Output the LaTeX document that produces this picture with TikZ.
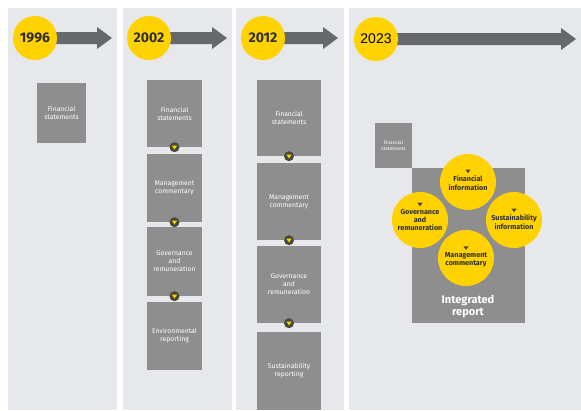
\documentclass[tikz,border=0pt]{standalone}
\usepackage{fontspec}
\setmainfont{Fira Sans}
\newfontfamily\arialf{Liberation Sans}
\definecolor{panelc}{HTML}{E6E8EB}
\definecolor{boxc}{HTML}{8E8E8E}
\definecolor{arrowc}{HTML}{66686B}
\definecolor{eyyellow}{HTML}{FFD200}
\definecolor{dotc}{HTML}{4A4838}
\definecolor{darktext}{HTML}{2E2E2E}
\tikzset{
  panel/.style={fill=panelc},
  gbox/.style={fill=boxc, draw=none, text=white, align=center, inner sep=0pt,
    font=\fontsize{6.8}{8}\selectfont},
  yearc/.style={circle, fill=eyyellow, minimum size=44pt, inner sep=0pt, text=darktext,
    font=\fontsize{14}{15}\selectfont\bfseries},
  timearrow/.style={fill=arrowc},
  linkdot/.style={circle, fill=dotc, minimum size=10pt, inner sep=0pt},
  topicc/.style={circle, fill=eyyellow, minimum size=56pt, inner sep=0pt},
  topict/.style={align=center, inner sep=0pt, text=darktext,
    font=\fontsize{7.2}{8.5}\selectfont\bfseries},
}
\newcommand{\tarrow}[4]{% start x, head start x, tip x, y
  \fill[timearrow] (#1,#4-6) -- (#2,#4-6) -- (#2,#4-11) -- (#3,#4) -- (#2,#4+11) -- (#2,#4+6) -- (#1,#4+6) -- cycle;}
\begin{document}
\begin{tikzpicture}[x=1pt,y=-1pt]
\useasboundingbox (0,0) rectangle (581,410);
\fill[white] (0,0) rectangle (581,410);
% panels
\fill[panel] (8,8) rectangle (117,410);
\fill[panel] (123,8) rectangle (232,410);
\fill[panel] (236,8) rectangle (344,410);
\fill[panel] (349,8) rectangle (581,410);
% timeline arrows
\tarrow{35}{97}{112}{38}
\tarrow{149}{212}{227}{38}
\tarrow{263}{323}{338}{38}
\tarrow{376}{561}{576}{39}
% year circles
\node[yearc] (y1996) at (35,38) {1996};
\node[yearc] (y2002) at (149,38) {2002};
\node[yearc] (y2012) at (263,38) {2012};
\node[yearc, font=\arialf\fontsize{14}{15}\selectfont, text=black] (y2023) at (376,39) {2023};
% panel 1
\node[gbox, minimum width=49pt, minimum height=60pt] (a1) at (61.5,113) {Financial\\statements};
% panel 2
\node[gbox, minimum width=55pt, minimum height=67pt] (b1) at (174.5,113.5) {Financial\\statements};
\node[gbox, minimum width=55pt, minimum height=68pt] (b2) at (174.5,188) {Management\\commentary};
\node[gbox, minimum width=55pt, minimum height=69pt] (b3) at (174.5,261.5) {Governance\\and\\remuneration};
\node[gbox, minimum width=55pt, minimum height=68pt] (b4) at (174.5,336) {Environmental\\reporting};
% panel 3
\node[gbox, minimum width=64pt, minimum height=76pt] (c1) at (289,118) {Financial\\statements};
\node[gbox, minimum width=64pt, minimum height=77pt] (c2) at (289,201.5) {Management\\commentary};
\node[gbox, minimum width=64pt, minimum height=77pt] (c3) at (289,284.5) {Governance\\and\\remuneration};
\node[gbox, minimum width=64pt, minimum height=78pt] (c4) at (289,371) {Sustainability\\reporting};
% link dots
\foreach \n/\b in {db1/b1, db2/b2, db3/b3, dc1/c1, dc2/c2, dc3/c3}{
  \node[linkdot] (\n) at (\b.south) {};
  \fill[eyyellow] (\n.center) ++(-2.6,-1.6) -- ++(5.2,0) -- ++(-2.6,3.8) -- cycle;
}
% panel 4
\node[gbox, minimum width=37pt, minimum height=45pt, font=\fontsize{4.8}{5.6}\selectfont] (d0) at (393.5,145.5) {Financial\\statements};
\node[fill=boxc, minimum width=113pt, minimum height=155pt, inner sep=0pt] (ir) at (468.5,245.5) {};
\node[text=white, align=center, font=\fontsize{11}{12}\selectfont\bfseries] (irt) at (468,307) {Integrated\\report};
\node[topicc] (tf) at (468,182) {};
\node[topicc] (tg) at (420,220) {};
\node[topicc] (ts) at (514,220) {};
\node[topicc] (tm) at (466,258) {};
\node[topict] (tft) at (468,183) {Financial\\information};
\node[topict] (tgt) at (420,220) {Governance\\and\\remuneration};
\node[topict] (tst) at (514,222) {Sustainability\\information};
\node[topict] (tmt) at (466,260) {Management\\commentary};
\foreach \t in {tft, tgt, tst, tmt}{
  \fill[dotc] (\t.north) ++(-2.6,-6) -- ++(5.2,0) -- ++(-2.6,3.6) -- cycle;
}
\end{tikzpicture}
\end{document}
